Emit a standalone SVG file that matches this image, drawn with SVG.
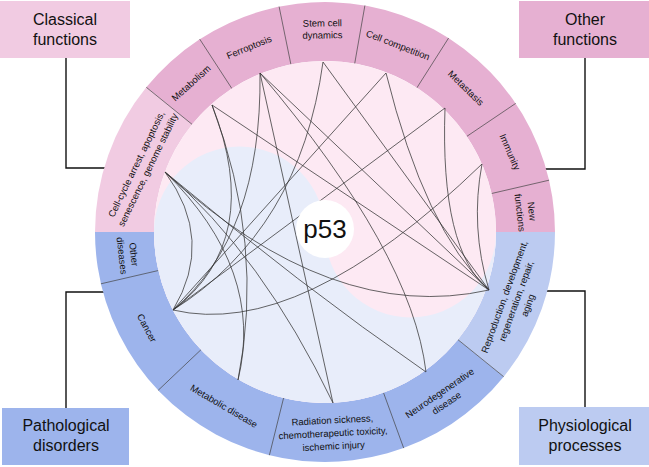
<svg xmlns="http://www.w3.org/2000/svg" width="649" height="467" viewBox="0 0 649 467">
<style>
.box-text{font-family:"Liberation Sans",Arial,sans-serif;font-size:16px;fill:#111;text-anchor:middle}
.seg-text{font-family:"Liberation Sans",Arial,sans-serif;font-size:9.5px;fill:#111;text-anchor:middle}
.lead{stroke:#111;stroke-width:1.4;fill:none}
.div{stroke:#444;stroke-width:0.7;fill:none}
.chord{stroke:#333;stroke-width:0.75;fill:none}
</style>
<rect width="649" height="467" fill="#ffffff"/>
<g id="leaders">
<path class="lead" d="M66,58 V168 H110"/>
<path class="lead" d="M585,58 V169 H540"/>
<path class="lead" d="M66,408 V292 H110"/>
<path class="lead" d="M585,407 V291 H540"/>
</g>
<g id="ring">
<path d="M95,232 A230,230 0 0 1 146.3,87.3 L192.1,124.4 A171,171 0 0 0 154,232 Z" fill="#f1cbe2"/>
<path d="M146.3,87.3 A230,230 0 0 1 555,232 L496,232 A171,171 0 0 0 192.1,124.4 Z" fill="#e6b0d2"/>
<path d="M95,232 A230,230 0 0 0 503.7,376.7 L457.9,339.6 A171,171 0 0 1 154,232 Z" fill="#9db4ec"/>
<path d="M503.7,376.7 A230,230 0 0 0 555,232 L496,232 A171,171 0 0 1 457.9,339.6 Z" fill="#bccbf1"/>
<path class="div" d="M491.6,193.5 L549.1,180.2 M466.8,136.4 L515.7,103.4 M416.9,87.8 L448.6,38 M354.7,63.6 L364.9,5.5 M290.9,64.4 L279.1,6.6 M231.9,88.6 L199.7,39.1 M192.1,124.4 L146.3,87.3 M158.4,270.5 L100.9,283.8 M201,349.7 L158.2,390.3 M283.6,397.9 L269.4,455.2 M383.5,392.7 L403.7,448.1 M457.9,339.6 L503.7,376.7"/>
</g>
<g id="inner">
<circle cx="325" cy="232" r="171" fill="#fde9f3"/>
<path d="M154,232 A85.5,85.5 0 0 1 325,232 A85.5,85.5 0 0 0 496,232 A171,171 0 0 1 154,232 Z" fill="#e8edfa"/>
</g>
<g id="connectors">
<path class="chord" d="M165,172 Q215,240 173,310"/>
<path class="chord" d="M165,172 Q265,270 238,380"/>
<path class="chord" d="M165,172 Q262,255 333,403"/>
<path class="chord" d="M165,172 Q300,285 426,372"/>
<path class="chord" d="M165,172 Q332,325 489,290"/>
<path class="chord" d="M212,105 Q265,240 173,310"/>
<path class="chord" d="M212,105 Q265,245 238,380"/>
<path class="chord" d="M212,105 L489,290"/>
<path class="chord" d="M260,73 Q262,235 173,310"/>
<path class="chord" d="M260,73 L333,403"/>
<path class="chord" d="M260,73 Q412,253 426,372"/>
<path class="chord" d="M260,73 L489,290"/>
<path class="chord" d="M323,62 Q300,230 173,310"/>
<path class="chord" d="M323,62 L489,290"/>
<path class="chord" d="M386,73 L173,310"/>
<path class="chord" d="M386,73 Q425,230 489,290"/>
<path class="chord" d="M445,108 L173,310"/>
<path class="chord" d="M445,108 Q440,250 489,290"/>
<path class="chord" d="M482,164 Q300,340 173,310"/>
<path class="chord" d="M482,164 Q470,227 489,290"/>
</g>
<g id="p53">
<circle cx="325" cy="229" r="29" fill="#ffffff"/>
<text x="325" y="238" font-family="Liberation Sans, Arial, sans-serif" font-size="26" text-anchor="middle" fill="#111">p53</text>
</g>
<g id="seg-cellcycle" transform="translate(142,167) rotate(-64)"><text class="seg-text"><tspan x="0" y="-3.1">Cell-cycle arrest, apoptosis,</tspan><tspan x="0" y="9.9">senescence, genome stability</tspan></text></g>
<g id="seg-metabolism" transform="translate(191,83) rotate(-42)"><text class="seg-text" x="0" y="3.4">Metabolism</text></g>
<g id="seg-ferroptosis" transform="translate(249,47) rotate(-22.3)"><text class="seg-text" x="0" y="3.4">Ferroptosis</text></g>
<g id="seg-stemcell" transform="translate(322.4,29) rotate(-0.8)"><text class="seg-text"><tspan x="0" y="-2.6">Stem cell</tspan><tspan x="0" y="9.4">dynamics</tspan></text></g>
<g id="seg-cellcomp" transform="translate(398,45) rotate(21.3)"><text class="seg-text" x="0" y="3.4">Cell competition</text></g>
<g id="seg-metastasis" transform="translate(466,88) rotate(44.3)"><text class="seg-text" x="0" y="3.4">Metastasis</text></g>
<g id="seg-immunity" transform="translate(510,152) rotate(66.5)"><text class="seg-text" x="0" y="3.4">Immunity</text></g>
<g id="seg-newfunc" transform="translate(526,212) rotate(83.5)"><text class="seg-text"><tspan x="0" y="-2.6">New</tspan><tspan x="0" y="9.4">functions</tspan></text></g>
<g id="seg-otherdis" transform="translate(128,255) rotate(83.5)"><text class="seg-text"><tspan x="0" y="-2.6">Other</tspan><tspan x="0" y="9.4">diseases</tspan></text></g>
<g id="seg-cancer" transform="translate(147,328) rotate(61.8)"><text class="seg-text" x="0" y="3.4">Cancer</text></g>
<g id="seg-metdis" transform="translate(224,406) rotate(30.3)"><text class="seg-text" x="0" y="3.4">Metabolic disease</text></g>
<g id="seg-radiation" transform="translate(333,433) rotate(-3)"><text class="seg-text"><tspan x="0" y="-9.6">Radiation sickness,</tspan><tspan x="0" y="3.4">chemotherapeutic toxicity,</tspan><tspan x="0" y="16.4">ischemic injury</tspan></text></g>
<g id="seg-neuro" transform="translate(443,398) rotate(-34.5)"><text class="seg-text"><tspan x="0" y="-2.6">Neurodegenerative</tspan><tspan x="0" y="9.4">disease</tspan></text></g>
<g id="seg-repro" transform="translate(516,301) rotate(-70)"><text class="seg-text"><tspan x="0" y="-9.1">Reproduction, development,</tspan><tspan x="0" y="3.4">regeneration, repair,</tspan><tspan x="0" y="15.9">aging</tspan></text></g>
<g id="box-classical"><rect x="0" y="1" width="130" height="57" fill="#f1cbe2"/><text class="box-text"><tspan x="65" y="25">Classical</tspan><tspan x="65" y="45">functions</tspan></text></g>
<g id="box-other"><rect x="519" y="1" width="130" height="57" fill="#e6b0d2"/><text class="box-text"><tspan x="585" y="25">Other</tspan><tspan x="585" y="45">functions</tspan></text></g>
<g id="box-patho"><rect x="2" y="408" width="127" height="57" fill="#9db4ec"/><text class="box-text"><tspan x="66" y="431">Pathological</tspan><tspan x="66" y="451">disorders</tspan></text></g>
<g id="box-physio"><rect x="519" y="407" width="130" height="58" fill="#bccbf1"/><text class="box-text"><tspan x="585" y="431">Physiological</tspan><tspan x="585" y="451">processes</tspan></text></g>
</svg>
